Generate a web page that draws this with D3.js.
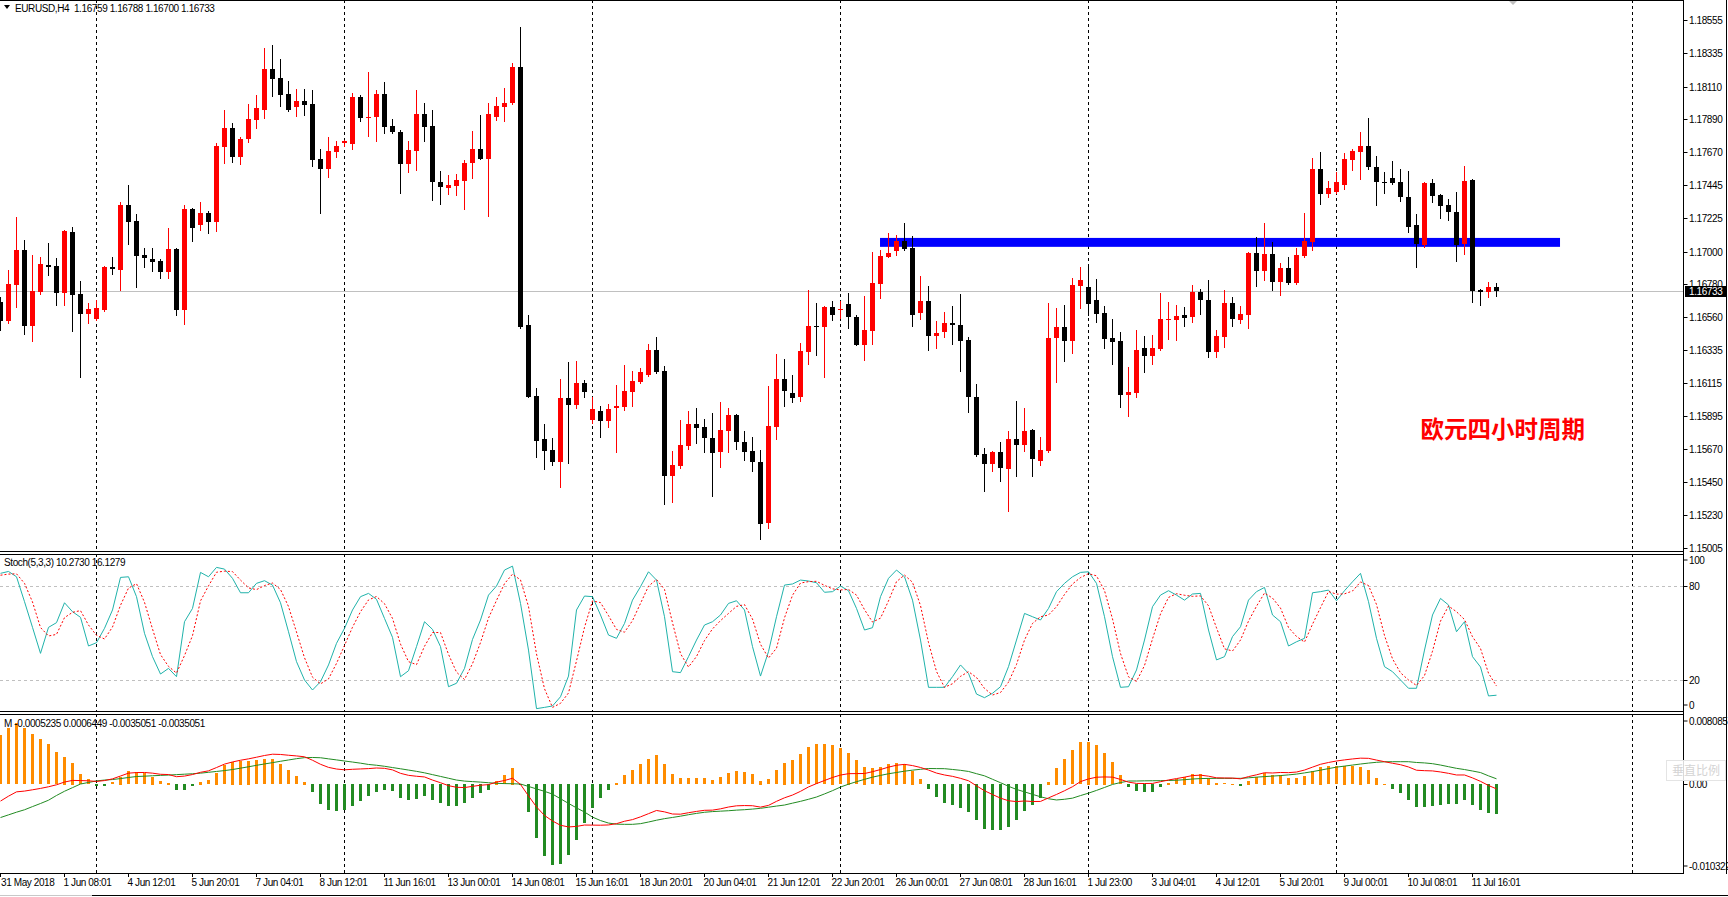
<!DOCTYPE html>
<html>
<head>
<meta charset="utf-8">
<script src="https://cdn.jsdelivr.net/npm/d3@7"></script>
<style>
html, body { margin: 0; padding: 0; background: #fff; overflow: hidden; }
svg { display: block; font-family: 'Liberation Sans', Arial, sans-serif; }
.t { font-size: 10px; letter-spacing: -0.4px; fill: #000; white-space: pre; }
</style>
</head>
<body>
<script>
// EURUSD H4 candles, one entry per bar
const open = [1.16662,1.16535,1.16778,1.17011,1.16501,1.16727,1.16910,1.16903,1.16722,1.17131,1.16715,1.16583,1.16549,1.16607,1.16895,1.16879,1.17313,1.17205,1.16977,1.16948,1.16936,1.16864,1.17018,1.16609,1.17287,1.17174,1.17258,1.17200,1.17705,1.17832,1.17638,1.17760,1.17887,1.17955,1.18228,1.18168,1.18058,1.17971,1.18012,1.17993,1.17623,1.17558,1.17671,1.17726,1.17726,1.18039,1.17902,1.17902,1.18060,1.17844,1.17803,1.17592,1.17678,1.17926,1.17844,1.17465,1.17431,1.17443,1.17477,1.17597,1.17690,1.17625,1.17907,1.17974,1.17995,1.18240,1.16506,1.16028,1.15740,1.15666,1.15586,1.16016,1.15971,1.16117,1.15870,1.15927,1.15862,1.15946,1.15956,1.16057,1.16124,1.16170,1.16338,1.16196,1.15492,1.15557,1.15692,1.15841,1.15819,1.15747,1.15649,1.15795,1.15901,1.15721,1.15658,1.15586,1.15171,1.15822,1.16144,1.16050,1.16019,1.16326,1.16499,1.16489,1.16626,1.16609,1.16646,1.16559,1.16374,1.16468,1.16782,1.16965,1.17006,1.17071,1.17025,1.16583,1.16667,1.16434,1.16460,1.16521,1.16506,1.16405,1.16021,1.15639,1.15567,1.15651,1.15541,1.15740,1.15702,1.15800,1.15593,1.15661,1.16415,1.16492,1.16400,1.16770,1.16761,1.16674,1.16588,1.16422,1.16398,1.16038,1.16050,1.16352,1.16300,1.16345,1.16542,1.16542,1.16573,1.16561,1.16730,1.16674,1.16326,1.16427,1.16655,1.16542,1.16576,1.16991,1.16871,1.16984,1.16797,1.16890,1.16790,1.16970,1.17066,1.17556,1.17388,1.17402,1.17450,1.17618,1.17671,1.17710,1.17568,1.17467,1.17496,1.17467,1.17366,1.17179,1.17044,1.17462,1.17383,1.17313,1.17263,1.17049,1.17481,1.16739,1.16727,1.16759]
const high = [1.16698,1.16874,1.17234,1.17078,1.16979,1.16963,1.17059,1.16958,1.17143,1.17167,1.16802,1.16655,1.16674,1.16903,1.16963,1.17333,1.17448,1.17253,1.17025,1.17025,1.16948,1.17159,1.17022,1.17311,1.17292,1.17333,1.17272,1.17731,1.17952,1.17868,1.17772,1.17993,1.18053,1.18372,1.18389,1.18296,1.18147,1.18094,1.18094,1.18087,1.17690,1.17772,1.17743,1.17748,1.18068,1.18053,1.18207,1.18087,1.18140,1.17892,1.17815,1.17743,1.18087,1.18000,1.17952,1.17541,1.17515,1.17522,1.17616,1.17810,1.17919,1.18000,1.18039,1.18101,1.18269,1.18509,1.16573,1.16083,1.15841,1.15747,1.16144,1.16256,1.16264,1.16136,1.16023,1.15961,1.15975,1.16103,1.16237,1.16196,1.16218,1.16379,1.16425,1.16230,1.15658,1.15867,1.15927,1.15949,1.15874,1.15915,1.15987,1.15949,1.15908,1.15793,1.15752,1.15666,1.16095,1.16312,1.16278,1.16170,1.16386,1.16742,1.16655,1.16634,1.16667,1.16667,1.16722,1.16573,1.16701,1.16996,1.17011,1.17126,1.17111,1.17193,1.17104,1.16838,1.16768,1.16533,1.16593,1.16634,1.16715,1.16425,1.16110,1.15680,1.15661,1.15721,1.15793,1.15995,1.15949,1.15805,1.15754,1.16655,1.16621,1.16641,1.16823,1.16895,1.16914,1.16816,1.16634,1.16547,1.16458,1.16225,1.16473,1.16434,1.16439,1.16722,1.16662,1.16643,1.16629,1.16778,1.16749,1.16809,1.16473,1.16742,1.16696,1.16634,1.16996,1.17100,1.17193,1.17066,1.16924,1.16965,1.17025,1.17260,1.17630,1.17669,1.17474,1.17534,1.17664,1.17690,1.17803,1.17899,1.17642,1.17534,1.17609,1.17556,1.17541,1.17253,1.17467,1.17489,1.17388,1.17354,1.17400,1.17575,1.17486,1.16751,1.16794,1.16788]
const low = [1.16470,1.16518,1.16626,1.16446,1.16398,1.16718,1.16843,1.16643,1.16643,1.16465,1.16158,1.16523,1.16542,1.16602,1.16850,1.16742,1.17054,1.16763,1.16895,1.16871,1.16823,1.16823,1.16573,1.16516,1.17071,1.17148,1.17126,1.17138,1.17599,1.17604,1.17592,1.17734,1.17834,1.17899,1.18048,1.17979,1.17947,1.17914,1.17919,1.17578,1.17260,1.17503,1.17633,1.17710,1.17693,1.17880,1.17779,1.17746,1.17801,1.17801,1.17395,1.17534,1.17549,1.17746,1.17349,1.17320,1.17388,1.17383,1.17289,1.17498,1.17621,1.17241,1.17885,1.17880,1.17991,1.16489,1.16019,1.15620,1.15541,1.15567,1.15420,1.15581,1.15951,1.16023,1.15850,1.15750,1.15822,1.15649,1.15937,1.15961,1.16117,1.16165,1.16182,1.15305,1.15317,1.15545,1.15675,1.15714,1.15654,1.15353,1.15553,1.15649,1.15675,1.15601,1.15526,1.15070,1.15144,1.15742,1.15961,1.15990,1.15997,1.16244,1.16304,1.16156,1.16540,1.16554,1.16489,1.16369,1.16273,1.16381,1.16691,1.16963,1.16979,1.17013,1.16501,1.16549,1.16340,1.16350,1.16427,1.16381,1.16199,1.15923,1.15627,1.15392,1.15526,1.15459,1.15257,1.15492,1.15661,1.15492,1.15567,1.15654,1.16120,1.16266,1.16321,1.16624,1.16576,1.16528,1.16355,1.16247,1.15956,1.15896,1.16023,1.16192,1.16247,1.16338,1.16415,1.16408,1.16501,1.16528,1.16583,1.16292,1.16292,1.16357,1.16501,1.16523,1.16489,1.16770,1.16811,1.16744,1.16710,1.16785,1.16782,1.16965,1.17013,1.17320,1.17369,1.17395,1.17421,1.17549,1.17491,1.17558,1.17316,1.17395,1.17455,1.17342,1.17133,1.16895,1.17030,1.17333,1.17227,1.17215,1.16939,1.16987,1.16662,1.16643,1.16694,1.16700]
const close = [1.16535,1.16782,1.17011,1.16501,1.16734,1.16917,1.16898,1.16722,1.17138,1.16710,1.16583,1.16614,1.16621,1.16895,1.16879,1.17313,1.17198,1.16972,1.16960,1.16931,1.16864,1.17018,1.16609,1.17287,1.17162,1.17258,1.17200,1.17710,1.17832,1.17638,1.17758,1.17892,1.17967,1.18228,1.18164,1.18055,1.17952,1.18012,1.17988,1.17618,1.17558,1.17676,1.17712,1.17741,1.18039,1.17895,1.17907,1.18060,1.17839,1.17806,1.17585,1.17683,1.17926,1.17839,1.17465,1.17431,1.17448,1.17481,1.17597,1.17690,1.17625,1.17926,1.17979,1.18000,1.18240,1.16494,1.16023,1.15728,1.15661,1.15586,1.16016,1.15971,1.16117,1.16057,1.15942,1.15862,1.15942,1.15961,1.16062,1.16129,1.16189,1.16338,1.16189,1.15492,1.15565,1.15699,1.15841,1.15817,1.15742,1.15649,1.15800,1.15901,1.15721,1.15654,1.15581,1.15171,1.15826,1.16144,1.16064,1.16019,1.16331,1.16499,1.16492,1.16626,1.16569,1.16614,1.16557,1.16374,1.16473,1.16790,1.16970,1.16991,1.17071,1.17018,1.16576,1.16667,1.16434,1.16453,1.16521,1.16509,1.16400,1.16019,1.15634,1.15574,1.15651,1.15541,1.15740,1.15702,1.15793,1.15608,1.15666,1.16420,1.16492,1.16400,1.16778,1.16809,1.16650,1.16583,1.16415,1.16393,1.16038,1.16055,1.16338,1.16300,1.16352,1.16547,1.16547,1.16566,1.16554,1.16730,1.16677,1.16326,1.16432,1.16655,1.16549,1.16581,1.16991,1.16871,1.16984,1.16797,1.16890,1.16790,1.16977,1.17071,1.17556,1.17388,1.17429,1.17467,1.17623,1.17676,1.17710,1.17570,1.17465,1.17465,1.17462,1.17369,1.17167,1.17051,1.17462,1.17376,1.17306,1.17263,1.17044,1.17474,1.16734,1.16727,1.16761,1.16733]

// Stochastic (5,3,3): main and signal
const stochMain = [88.1,89.3,85.9,70.0,53.6,37.0,53.6,56.6,69.3,63.6,60.0,41.7,43.8,53.0,64.7,85.5,85.9,73.2,49.8,34.9,23.8,27.4,22.1,57.2,65.7,88.7,85.9,91.9,90.8,84.9,75.7,75.7,81.7,83.4,80.6,69.3,50.8,31.7,20.0,13.6,18.9,29.6,43.4,53.0,64.7,73.2,75.3,71.5,59.3,47.2,22.1,25.9,41.3,57.2,52.3,41.3,15.7,17.9,27.4,45.9,58.3,74.2,80.0,90.2,92.7,68.9,39.1,1.7,2.5,3.4,9.3,22.5,64.7,73.6,73.2,61.5,48.7,46.6,56.1,71.0,79.6,89.1,83.8,60.4,25.3,24.7,34.9,45.5,55.1,57.2,61.5,68.9,70.6,64.7,41.3,22.5,38.1,60.4,80.6,81.3,83.8,83.2,82.1,76.0,76.4,80.0,77.0,65.7,51.9,53.4,73.2,84.9,90.2,85.9,71.0,45.5,15.3,15.3,15.3,22.1,29.6,24.2,11.0,8.7,11.5,15.7,28.5,45.5,62.5,60.4,58.3,65.7,76.4,81.7,85.9,88.7,89.1,81.7,60.4,34.9,15.3,15.7,26.4,45.5,66.8,74.2,77.0,74.2,71.0,74.9,75.3,51.9,32.8,34.9,47.7,54.0,71.0,76.4,79.1,61.5,57.2,41.7,44.4,46.6,75.7,76.4,77.4,70.6,77.0,82.7,88.1,70.0,46.6,28.5,25.3,20.0,14.7,14.7,39.1,61.5,72.1,67.9,50.8,57.2,34.9,28.3,9.8,10.273]
const stochSignal = [86.9,87.6,87.8,81.7,69.8,53.5,48.1,49.1,59.8,63.2,64.3,55.1,48.5,46.2,53.8,67.7,78.7,81.5,69.6,52.6,36.2,28.7,24.4,35.6,48.3,70.5,80.1,88.8,89.5,89.2,83.8,78.8,77.7,80.3,81.9,77.8,66.9,50.6,34.2,21.8,17.5,20.7,30.6,42.0,53.7,63.6,71.1,73.3,68.7,59.3,42.9,31.7,29.8,41.5,50.3,50.3,36.4,25.0,20.3,30.4,43.9,59.5,70.8,81.5,87.6,83.9,66.9,36.6,14.4,2.5,5.1,11.7,32.2,53.6,70.5,69.4,61.1,52.3,50.5,57.9,68.9,79.9,84.2,77.8,56.5,36.8,28.3,35.0,45.2,52.6,57.9,62.5,67.0,68.1,58.9,42.8,34.0,40.3,59.7,74.1,81.9,82.8,83.0,80.4,78.2,77.5,77.8,74.2,64.9,57.0,59.5,70.5,82.8,87.0,82.4,67.5,43.9,25.4,15.3,17.6,22.3,25.3,21.6,14.6,10.4,12.0,18.6,29.9,45.5,56.1,60.4,61.5,66.8,74.6,81.3,85.4,87.9,86.5,77.1,59.0,36.9,22.0,19.1,29.2,46.2,62.2,72.7,75.1,74.1,73.4,73.7,67.4,53.3,39.9,38.5,45.5,57.6,67.1,75.5,72.3,65.9,53.5,47.8,44.2,55.6,66.2,76.5,74.8,75.0,76.8,82.6,80.3,68.2,48.4,33.5,24.6,20.0,16.5,22.8,38.4,57.6,67.2,63.6,58.6,47.6,40.1,24.3,16.1279]

// MACD: histogram, main (red) and signal (green)
const macdHist = [0.00572,0.00650,0.00708,0.00650,0.00584,0.00526,0.00468,0.00371,0.00321,0.00251,0.00120,0.00058,-0.00019,-0.00019,0.00023,0.00089,0.00151,0.00139,0.00128,0.00089,0.00039,0.00019,-0.00073,-0.00066,-0.00027,0.00031,0.00050,0.00135,0.00224,0.00263,0.00275,0.00275,0.00282,0.00294,0.00294,0.00236,0.00166,0.00097,0.00031,-0.00097,-0.00228,-0.00298,-0.00317,-0.00306,-0.00251,-0.00201,-0.00143,-0.00097,-0.00073,-0.00081,-0.00159,-0.00182,-0.00170,-0.00143,-0.00190,-0.00220,-0.00259,-0.00251,-0.00224,-0.00166,-0.00108,-0.00066,0.00043,0.00108,0.00193,-0.00015,-0.00329,-0.00627,-0.00839,-0.00936,-0.00924,-0.00820,-0.00646,-0.00453,-0.00278,-0.00162,-0.00066,0.00019,0.00108,0.00166,0.00236,0.00290,0.00340,0.00236,0.00120,0.00070,0.00070,0.00070,0.00070,0.00050,0.00081,0.00128,0.00151,0.00143,0.00116,0.00043,0.00062,0.00166,0.00251,0.00282,0.00348,0.00429,0.00468,0.00468,0.00460,0.00418,0.00367,0.00282,0.00205,0.00190,0.00205,0.00232,0.00251,0.00236,0.00159,0.00062,-0.00054,-0.00155,-0.00220,-0.00240,-0.00278,-0.00325,-0.00422,-0.00518,-0.00530,-0.00538,-0.00503,-0.00422,-0.00317,-0.00248,-0.00162,0.00031,0.00193,0.00298,0.00398,0.00487,0.00495,0.00460,0.00367,0.00255,0.00108,-0.00039,-0.00085,-0.00093,-0.00093,-0.00035,0.00019,0.00058,0.00089,0.00120,0.00120,0.00077,0.00019,0.00012,0.00008,-0.00019,0.00043,0.00081,0.00135,0.00108,0.00108,0.00077,0.00073,0.00100,0.00155,0.00205,0.00213,0.00213,0.00217,0.00213,0.00205,0.00166,0.00077,0.00004,-0.00054,-0.00104,-0.00182,-0.00271,-0.00271,-0.00251,-0.00240,-0.00232,-0.00232,-0.00190,-0.00240,-0.00306,-0.00337,-0.0035051]
const macdMain = [-0.00194,-0.00137,-0.00087,-0.00078,-0.00063,-0.00047,-0.00028,-0.00005,0.00027,0.00046,0.00044,0.00041,0.00034,0.00044,0.00064,0.00097,0.00130,0.00137,0.00138,0.00130,0.00117,0.00114,0.00089,0.00096,0.00114,0.00140,0.00157,0.00195,0.00235,0.00260,0.00280,0.00296,0.00315,0.00335,0.00350,0.00347,0.00338,0.00330,0.00320,0.00280,0.00233,0.00197,0.00178,0.00169,0.00175,0.00179,0.00183,0.00190,0.00186,0.00168,0.00128,0.00105,0.00094,0.00086,0.00050,0.00019,-0.00015,-0.00034,-0.00037,-0.00023,-0.00010,-0.00003,0.00026,0.00045,0.00071,-0.00001,-0.00134,-0.00262,-0.00361,-0.00425,-0.00475,-0.00494,-0.00488,-0.00472,-0.00473,-0.00474,-0.00471,-0.00456,-0.00428,-0.00409,-0.00377,-0.00340,-0.00303,-0.00319,-0.00344,-0.00346,-0.00329,-0.00314,-0.00301,-0.00299,-0.00284,-0.00263,-0.00249,-0.00246,-0.00248,-0.00264,-0.00244,-0.00197,-0.00156,-0.00124,-0.00081,-0.00030,0.00009,0.00045,0.00080,0.00108,0.00124,0.00125,0.00126,0.00147,0.00172,0.00200,0.00222,0.00232,0.00218,0.00196,0.00166,0.00131,0.00109,0.00093,0.00070,0.00042,-0.00017,-0.00074,-0.00118,-0.00160,-0.00190,-0.00200,-0.00193,-0.00199,-0.00198,-0.00157,-0.00117,-0.00074,-0.00027,0.00032,0.00063,0.00083,0.00086,0.00084,0.00057,0.00026,0.00011,0.00010,0.00011,0.00031,0.00051,0.00067,0.00084,0.00102,0.00107,0.00095,0.00076,0.00074,0.00073,0.00064,0.00090,0.00111,0.00135,0.00132,0.00138,0.00136,0.00143,0.00166,0.00200,0.00233,0.00254,0.00271,0.00284,0.00295,0.00304,0.00302,0.00282,0.00263,0.00245,0.00228,0.00202,0.00164,0.00159,0.00156,0.00144,0.00128,0.00109,0.00109,0.00075,0.00035,-0.00013,-0.0005235]
const macdSignal = [-0.00385,-0.00354,-0.00323,-0.00295,-0.00258,-0.00222,-0.00184,-0.00129,-0.00080,-0.00038,0.00004,0.00022,0.00040,0.00050,0.00056,0.00067,0.00080,0.00091,0.00095,0.00100,0.00104,0.00108,0.00113,0.00118,0.00123,0.00130,0.00140,0.00150,0.00160,0.00172,0.00188,0.00204,0.00221,0.00237,0.00252,0.00268,0.00283,0.00298,0.00310,0.00312,0.00309,0.00296,0.00284,0.00271,0.00259,0.00246,0.00231,0.00222,0.00210,0.00195,0.00181,0.00166,0.00151,0.00134,0.00113,0.00092,0.00071,0.00050,0.00038,0.00032,0.00026,0.00019,0.00012,0.00009,0.00007,0.00004,-0.00024,-0.00053,-0.00081,-0.00113,-0.00167,-0.00221,-0.00273,-0.00321,-0.00380,-0.00420,-0.00449,-0.00462,-0.00464,-0.00464,-0.00456,-0.00437,-0.00416,-0.00398,-0.00384,-0.00369,-0.00352,-0.00337,-0.00324,-0.00316,-0.00311,-0.00306,-0.00299,-0.00294,-0.00287,-0.00278,-0.00265,-0.00252,-0.00240,-0.00218,-0.00197,-0.00173,-0.00147,-0.00111,-0.00073,-0.00031,0.00002,0.00031,0.00058,0.00084,0.00104,0.00123,0.00138,0.00153,0.00165,0.00175,0.00184,0.00183,0.00182,0.00173,0.00163,0.00150,0.00124,0.00099,0.00059,0.00019,-0.00022,-0.00059,-0.00087,-0.00116,-0.00144,-0.00167,-0.00181,-0.00173,-0.00160,-0.00130,-0.00102,-0.00070,-0.00036,-0.00001,0.00021,0.00039,0.00039,0.00041,0.00042,0.00043,0.00045,0.00048,0.00054,0.00062,0.00067,0.00069,0.00070,0.00070,0.00070,0.00070,0.00076,0.00084,0.00090,0.00096,0.00102,0.00110,0.00119,0.00133,0.00148,0.00165,0.00183,0.00200,0.00212,0.00224,0.00236,0.00247,0.00256,0.00262,0.00263,0.00263,0.00263,0.00254,0.00249,0.00240,0.00224,0.00205,0.00186,0.00172,0.00155,0.00137,0.00099,0.0006449]

// axis labels and annotations
const xLabels = ['31 May 2018','1 Jun 08:01','4 Jun 12:01','5 Jun 20:01','7 Jun 04:01','8 Jun 12:01','11 Jun 16:01','13 Jun 00:01','14 Jun 08:01','15 Jun 16:01','18 Jun 20:01','20 Jun 04:01','21 Jun 12:01','22 Jun 20:01','26 Jun 00:01','27 Jun 08:01','28 Jun 16:01','1 Jul 23:00','3 Jul 04:01','4 Jul 12:01','5 Jul 20:01','9 Jul 00:01','10 Jul 08:01','11 Jul 16:01']
const labelStep = 8
const gridIdx = [12, 43, 74, 105, 136, 167, 204]
const priceTicks = ['1.18555','1.18335','1.18110','1.17890','1.17670','1.17445','1.17225','1.17000','1.16780','1.16560','1.16335','1.16115','1.15895','1.15670','1.15450','1.15230','1.15005']
const priceRange = [1.149796, 1.186922]
const lastPrice = 1.16733
const stochTicks = [100, 80, 20, 0]
const stochLevels = [80, 20]
const macdRange = [-0.010322, 0.008085]
const macdTicks = [0.008085, 0, -0.010322]
const macdTickText = ['0.008085', '0.00', '-0.010322']
const zone = { from: 109.94, to: 194.94, top: 1.17092, bottom: 1.17032 }
const header = 'EURUSD,H4  1.16759 1.16788 1.16700 1.16733'
const stochTitle = 'Stoch(5,3,3) 10.2730 16.1279'
const macdTitle = 'M -0.0005235 0.0006449 -0.0035051 -0.0035051'
const note = '欧元四小时周期'

const W = 1728, H = 897
const axisX = 1683.5
const main = { top: 0, bottom: 551 }
const stoch = { top: 554, bottom: 711 }
const macd = { top: 714, bottom: 873 }

const svg = d3.select('body').append('svg').attr('width', W).attr('height', H)

const x = d3.scaleLinear().domain([0, 1]).range([0.5, 8.5])
const yP = d3.scaleLinear().domain(priceRange).range([552, 0])
const yS = d3.scaleLinear().domain([0, 100]).range([711.3, 554.7])
const yM = d3.scaleLinear().domain(macdRange).range([873.3, 714.7])

const defs = svg.append('defs')
const clip = (id, p) => defs.append('clipPath').attr('id', id).append('rect')
    .attr('x', 0).attr('y', p.top + 1).attr('width', axisX).attr('height', p.bottom - p.top - 1)
clip('cMain', main)
clip('cStoch', stoch)
clip('cMacd', macd)

// vertical dashed grid
;[main, stoch, macd].forEach(p => {
    svg.append('g').selectAll('line').data(gridIdx).enter().append('line')
        .attr('x1', d => x(d)).attr('x2', d => x(d))
        .attr('y1', p.top).attr('y2', p.bottom)
        .attr('stroke', '#000').attr('stroke-dasharray', '3,3')
})

// ---- price panel
const gMain = svg.append('g').attr('clip-path', 'url(#cMain)')

gMain.append('line')
    .attr('x1', 0).attr('x2', axisX)
    .attr('y1', Math.round(yP(lastPrice)) + 0.5).attr('y2', Math.round(yP(lastPrice)) + 0.5)
    .attr('stroke', '#c0c0c0')

gMain.append('rect')
    .attr('x', x(zone.from)).attr('width', x(zone.to) - x(zone.from))
    .attr('y', yP(zone.top)).attr('height', yP(zone.bottom) - yP(zone.top))
    .attr('fill', '#0000ff')

const candles = gMain.append('g').selectAll('g').data(open).enter().append('g')
const col = i => close[i] > open[i] ? '#ff0000' : '#000000'
candles.append('line')
    .attr('x1', (d, i) => x(i)).attr('x2', (d, i) => x(i))
    .attr('y1', (d, i) => Math.round(yP(high[i]))).attr('y2', (d, i) => Math.round(yP(low[i])) + 1)
    .attr('stroke', (d, i) => col(i))
candles.append('rect')
    .attr('x', (d, i) => x(i) - 2.5).attr('width', 5)
    .attr('y', (d, i) => Math.round(yP(Math.max(open[i], close[i]))))
    .attr('height', (d, i) => Math.max(1, Math.round(Math.abs(yP(open[i]) - yP(close[i])))))
    .attr('fill', (d, i) => col(i))
    .attr('shape-rendering', 'crispEdges')

svg.append('text').attr('x', 1420.5).attr('y', 428).attr('dominant-baseline', 'central')
    .attr('font-family', "'Noto Sans CJK SC', sans-serif").attr('font-weight', 700)
    .attr('font-size', 23.5).attr('fill', '#ff0000').text(note)

svg.append('path').attr('d', 'M4,5 L10,5 L7,9 Z').attr('fill', '#000')
svg.append('text').attr('class', 't').attr('x', 15).attr('y', 12).text(header)
svg.append('path').attr('d', 'M1508,0 L1518,0 L1513,5 Z').attr('fill', '#c0c0c0')

// ---- stochastic panel
const gSto = svg.append('g').attr('clip-path', 'url(#cStoch)')
gSto.selectAll('line.lvl').data(stochLevels).enter().append('line')
    .attr('x1', 0).attr('x2', axisX)
    .attr('y1', d => Math.round(yS(d)) + 0.5).attr('y2', d => Math.round(yS(d)) + 0.5)
    .attr('stroke', '#c0c0c0').attr('stroke-dasharray', '3,3')
gSto.append('path').datum(stochMain)
    .attr('d', d3.line().x((d, i) => x(i)).y(d => yS(d)))
    .attr('fill', 'none').attr('stroke', '#20b2aa').attr('stroke-width', 1)
gSto.append('path').datum(stochSignal)
    .attr('d', d3.line().x((d, i) => x(i)).y(d => yS(d)))
    .attr('fill', 'none').attr('stroke', '#ff0000').attr('stroke-width', 1).attr('stroke-dasharray', '2,2')
svg.append('text').attr('class', 't').attr('x', 4).attr('y', 566).text(stochTitle)

// ---- MACD panel
const gMacd = svg.append('g').attr('clip-path', 'url(#cMacd)')
gMacd.selectAll('rect').data(macdHist).enter().append('rect')
    .attr('x', (d, i) => x(i) - 1.5).attr('width', 3)
    .attr('y', d => Math.round(yM(Math.max(0, d))))
    .attr('height', d => Math.max(1, Math.round(Math.abs(yM(d) - yM(0)))))
    .attr('fill', d => d >= 0 ? '#ff8c00' : '#228b22')
    .attr('shape-rendering', 'crispEdges')
gMacd.append('path').datum(macdSignal)
    .attr('d', d3.line().x((d, i) => x(i)).y(d => yM(d)))
    .attr('fill', 'none').attr('stroke', '#228b22').attr('stroke-width', 1)
gMacd.append('path').datum(macdMain)
    .attr('d', d3.line().x((d, i) => x(i)).y(d => yM(d)))
    .attr('fill', 'none').attr('stroke', '#ff0000').attr('stroke-width', 1)
svg.append('text').attr('class', 't').attr('x', 4).attr('y', 727).text(macdTitle)

// ---- frames
const frame = svg.append('g').attr('stroke', '#000').attr('shape-rendering', 'crispEdges')
;[main, stoch, macd].forEach(p => {
    frame.append('line').attr('x1', 0).attr('x2', axisX).attr('y1', p.top + 0.5).attr('y2', p.top + 0.5)
    frame.append('line').attr('x1', 0).attr('x2', axisX).attr('y1', p.bottom + 0.5).attr('y2', p.bottom + 0.5)
})
frame.append('line').attr('x1', axisX).attr('x2', axisX).attr('y1', 0).attr('y2', macd.bottom + 1)
frame.append('line').attr('x1', 1726.5).attr('x2', 1726.5).attr('y1', 0).attr('y2', macd.bottom + 1)
frame.append('line').attr('x1', 92).attr('x2', W).attr('y1', 895.5).attr('y2', 895.5)
svg.append('line').attr('x1', 0).attr('x2', 92).attr('y1', 895.5).attr('y2', 895.5).attr('stroke', '#c8c8c8')

// ---- right axis: price
const axR = svg.append('g')
priceTicks.forEach(t => {
    const yy = Math.round(yP(+t)) + 0.5
    axR.append('line').attr('x1', axisX).attr('x2', axisX + 4).attr('y1', yy).attr('y2', yy).attr('stroke', '#000')
    axR.append('text').attr('class', 't').attr('x', 1689).attr('y', yy).attr('dy', '0.35em').text(t)
})
const lp = Math.round(yP(lastPrice)) + 0.5
axR.append('rect').attr('x', 1685).attr('y', lp - 5.5).attr('width', 41).attr('height', 11).attr('fill', '#000')
axR.append('text').attr('class', 't').attr('x', 1689).attr('y', lp).attr('dy', '0.35em')
    .style('fill', '#fff').text(d3.format('.5f')(lastPrice))

// ---- right axis: stochastic
stochTicks.forEach(t => {
    const yy = Math.round(yS(t)) + 0.5
    const ty = Math.min(stoch.bottom - 6, Math.max(stoch.top + 6, yy))
    axR.append('line').attr('x1', axisX).attr('x2', axisX + 4).attr('y1', ty).attr('y2', ty).attr('stroke', '#000')
    axR.append('text').attr('class', 't').attr('x', 1689).attr('y', ty).attr('dy', '0.35em').text(t)
})

// ---- right axis: MACD
macdTicks.forEach((t, k) => {
    const yy = Math.round(yM(t)) + 0.5
    const ty = Math.min(macd.bottom - 7, Math.max(macd.top + 7, yy))
    axR.append('line').attr('x1', axisX).attr('x2', axisX + 4).attr('y1', ty).attr('y2', ty).attr('stroke', '#000')
    axR.append('text').attr('class', 't').attr('x', 1689).attr('y', ty).attr('dy', '0.35em').text(macdTickText[k])
})
const vs = svg.append('g')
vs.append('rect').attr('x', 1666.5).attr('y', 760.5).attr('width', 59).attr('height', 20)
    .attr('fill', '#fff').attr('fill-opacity', 0.85).attr('stroke', '#e4e4e4')
vs.append('text').attr('x', 1672).attr('y', 775).attr('font-size', 12)
    .attr('font-family', "'Noto Sans CJK SC', sans-serif").attr('fill', '#d4d4d4').text('垂直比例')

// ---- time axis
const axB = svg.append('g')
xLabels.forEach((s, k) => {
    const xx = x(k * labelStep)
    axB.append('line').attr('x1', xx).attr('x2', xx).attr('y1', macd.bottom + 1).attr('y2', macd.bottom + 4).attr('stroke', '#000')
    axB.append('text').attr('class', 't').attr('x', Math.max(1, xx - 1)).attr('y', 886).text(s)
})
</script>
</body>
</html>
